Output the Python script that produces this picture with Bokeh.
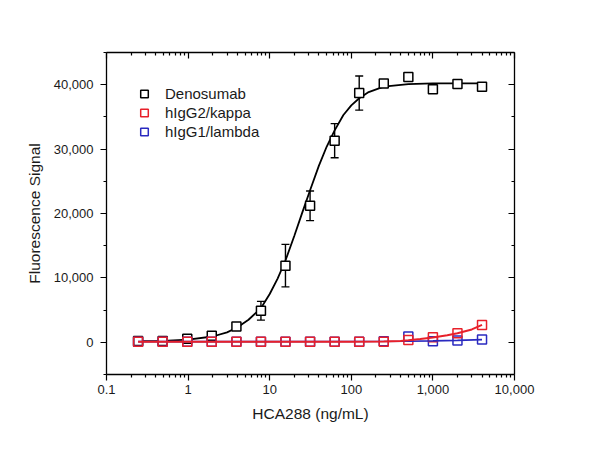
from bokeh.plotting import figure
from bokeh.models import (Range1d, FixedTicker, NumeralTickFormatter, CustomJSTickFormatter,
                          LinearAxis, LogAxis, Legend, LegendItem, Whisker, TeeHead, ColumnDataSource)
from bokeh.embed import file_html
from bokeh.resources import INLINE

# ---------------- data ----------------
conc = [0.244, 0.488, 0.977, 1.95, 3.91, 7.81, 15.6, 31.25, 62.5, 125, 250, 500, 1000, 2000, 4000]

deno = [200, 200, 550, 1000, 2450, 4900, 11900, 21200, 31300, 38700, 40200, 41200, 39300, 40100, 39700]
deno_err = [300, 300, 600, 300, 500, 1450, 3300, 2300, 2650, 2650, 500, 600, 300, 300, 300]

igg2 = [100, 100, 100, 100, 100, 100, 100, 100, 100, 100, 100, 350, 800, 1400, 2700]
igg1 = [100, 100, 100, 100, 100, 100, 100, 100, 100, 100, 150, 900, 150, 280, 430]

# fitted curves
deno_fit_x = [0.244, 0.5, 1, 2, 3, 4, 5.5, 7.8, 10, 12.5, 15.6, 20, 25, 31.25, 40, 50,
              62.5, 80, 100, 125, 160, 250, 500, 1000, 2000, 4000]
deno_fit_y = [170, 230, 400, 900, 1550, 2300, 3500, 5300, 7500, 9900, 12700, 16500, 20100,
              23600, 27400, 30400, 32900, 35300, 36800, 37900, 38800, 39700, 40100, 40200, 40200, 40200]

igg2_fit_x = [0.244, 1, 10, 100, 250, 400, 500, 700, 1000, 1500, 2000, 3000, 4000]
igg2_fit_y = [100, 100, 100, 100, 120, 200, 300, 500, 750, 1100, 1400, 2000, 2700]

igg1_fit_x = [0.244, 100, 500, 1000, 2000, 4000]
igg1_fit_y = [100, 120, 170, 220, 300, 420]

x_ticks = [0.1, 1, 10, 100, 1000, 10000]
y_ticks = [0, 10000, 20000, 30000, 40000]
y_minor = [-5000, 5000, 15000, 25000, 35000, 45000]

labels = ["Denosumab", "hIgG2/kappa", "hIgG1/lambda"]
colors = ["#000000", "#e8202a", "#2a2ac0"]

FONT = "Liberation Sans"

# ---------------- figure ----------------
p = figure(width=600, height=450, x_axis_type="log",
           x_range=Range1d(0.1, 10000), y_range=Range1d(-5000, 45000),
           output_backend="svg", toolbar_location=None,
           min_border_left=106, min_border_right=86, min_border_top=52, min_border_bottom=76)
p.xgrid.visible = False
p.ygrid.visible = False
p.outline_line_color = None
p.background_fill_color = "white"
p.border_fill_color = "white"

x_minor = [m * d for d in x_ticks[:-1] for m in range(2, 10)]
xt = FixedTicker(ticks=x_ticks, minor_ticks=x_minor)
yt = FixedTicker(ticks=y_ticks, minor_ticks=y_minor)

for ax in p.xaxis:
    ax.ticker = xt
    ax.formatter = NumeralTickFormatter(format="0,0.[0]")
    ax.axis_label = "HCA288 (ng/mL)"
    ax.major_label_standoff = 4
    ax.axis_label_standoff = 8
for ax in p.yaxis:
    ax.ticker = yt
    ax.formatter = NumeralTickFormatter(format="0,0")
    ax.axis_label = "Fluorescence Signal"
    ax.major_label_standoff = 7
    ax.axis_label_standoff = 8

for ax in list(p.xaxis) + list(p.yaxis):
    ax.axis_line_width = 1.3
    ax.axis_line_color = "black"
    ax.major_tick_line_color = "black"
    ax.minor_tick_line_color = "black"
    ax.major_tick_line_width = 1.2
    ax.minor_tick_line_width = 1.2
    ax.major_tick_out = 6
    ax.major_tick_in = 0
    ax.minor_tick_out = 3
    ax.minor_tick_in = 0
    ax.major_label_text_font = FONT
    ax.major_label_text_font_size = "13px"
    ax.major_label_text_color = "#1a1a1a"
    ax.axis_label_text_font = FONT
    ax.axis_label_text_font_size = "15.5px"
    ax.axis_label_text_font_style = "normal"
    ax.axis_label_text_color = "#1a1a1a"

blank = CustomJSTickFormatter(code="return ''")
top = LogAxis(ticker=xt, formatter=blank)
right = LinearAxis(ticker=yt, formatter=blank)
for ax in (top, right):
    ax.axis_line_width = 1.3
    ax.axis_line_color = "black"
    ax.major_tick_line_width = 1.2
    ax.minor_tick_line_width = 1.2
    ax.major_tick_in = 6
    ax.major_tick_out = 0
    ax.minor_tick_in = 3
    ax.minor_tick_out = 0
    ax.major_label_standoff = 0
p.add_layout(top, "above")
p.add_layout(right, "right")

# ---------------- marks ----------------
p.line(deno_fit_x, deno_fit_y, line_color=colors[0], line_width=1.8)

src = ColumnDataSource(dict(x=conc,
                            lo=[v - e for v, e in zip(deno, deno_err)],
                            hi=[v + e for v, e in zip(deno, deno_err)]))
wh = Whisker(source=src, base="x", lower="lo", upper="hi", line_color="black", line_width=1.4,
             upper_head=TeeHead(size=8, line_color="black", line_width=1.4),
             lower_head=TeeHead(size=8, line_color="black", line_width=1.4))
p.add_layout(wh)

r_deno = p.scatter(conc, deno, marker="square", size=9, fill_color="white",
                   line_color=colors[0], line_width=1.5)
r_igg1 = p.scatter(conc, igg1, marker="square", size=9, fill_alpha=0,
                   line_color=colors[2], line_width=1.5)
r_igg2 = p.scatter(conc, igg2, marker="square", size=9, fill_alpha=0,
                   line_color=colors[1], line_width=1.5)
p.line(igg1_fit_x, igg1_fit_y, line_color=colors[2], line_width=1.6)
p.line(igg2_fit_x, igg2_fit_y, line_color=colors[1], line_width=2)

legend = Legend(items=[LegendItem(label=labels[0], renderers=[r_deno]),
                       LegendItem(label=labels[1], renderers=[r_igg2]),
                       LegendItem(label=labels[2], renderers=[r_igg1])],
                location=(28, 233), border_line_color=None, background_fill_alpha=0,
                label_text_font=FONT, label_text_font_size="15px", label_text_color="#1a1a1a",
                glyph_width=20, glyph_height=19, label_height=19, spacing=0,
                padding=0, margin=0, label_standoff=11)
p.add_layout(legend)

open("out.html", "w").write(file_html(p, INLINE))
